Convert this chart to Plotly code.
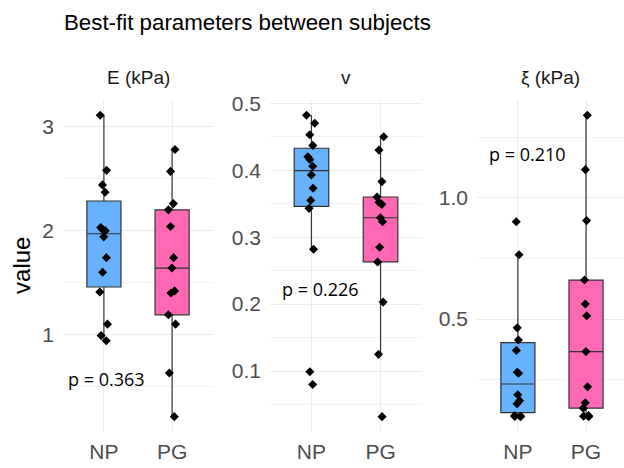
import numpy as np
import plotly.graph_objects as go

# Groups and facet labels
groups = ["NP", "PG"]
panel_titles = ["E (kPa)", "v", "ξ (kPa)"]

# Best-fit parameter values per subject
E_NP = [3.11, 2.58, 2.44, 2.37, 2.03, 2.01, 2.00, 1.94, 1.74, 1.60, 1.41, 1.10, 0.99, 0.94]
E_PG = [2.78, 2.57, 2.26, 2.20, 2.04, 1.74, 1.64, 1.42, 1.40, 1.19, 1.10, 0.63, 0.21]
v_NP = [0.482, 0.470, 0.453, 0.437, 0.420, 0.416, 0.406, 0.393, 0.373, 0.355, 0.343, 0.282, 0.099, 0.080]
v_PG = [0.450, 0.430, 0.383, 0.360, 0.352, 0.349, 0.329, 0.323, 0.285, 0.263, 0.203, 0.125, 0.032]
xi_NP = [0.901, 0.765, 0.464, 0.414, 0.371, 0.281, 0.277, 0.188, 0.164, 0.151, 0.102, 0.100, 0.099, 0.098]
xi_PG = [1.340, 1.116, 0.906, 0.661, 0.562, 0.514, 0.366, 0.221, 0.155, 0.133, 0.102, 0.100, 0.098]

# p-values from the group comparison, with label positions (category index, value)
p_labels = ["p = 0.363", "p = 0.226", "p = 0.210"]
p_label_x = [-0.55, -0.46, -0.45]
p_label_y = [0.575, 0.222, 1.18]

panels = [
    {"NP": E_NP, "PG": E_PG},
    {"NP": v_NP, "PG": v_PG},
    {"NP": xi_NP, "PG": xi_PG},
]

fill_colors = {"NP": "#66B2FF", "PG": "#FF69B4"}
W, H = 624, 468
x_domains = [(63 / W, 213 / W), (270 / W, 422 / W), (477 / W, 1.0)]
x_ranges = [[-0.6, 1.6], [-0.6, 1.6], [-0.6, 1.557]]
y_domain = [(H - 431) / H, (H - 93) / H]
major_dtick = [1, 0.1, 0.5]
minor_dtick = [0.5, 0.05, 0.25]
tick_fmt = ["d", ".1f", ".1f"]

SANS = "Liberation Sans, Arial, sans-serif"
TICK_FONT = dict(family=SANS, size=21, color="#4D4D4D")
GRID = "#EBEBEB"
GRID_MINOR = "#F3F3F3"


def box_stats(vals):
    a = np.asarray(vals, dtype=float)
    q1, med, q3 = np.percentile(a, [25, 50, 75])
    iqr = q3 - q1
    lo = a[a >= q1 - 1.5 * iqr].min()
    hi = a[a <= q3 + 1.5 * iqr].max()
    return q1, med, q3, lo, hi


fig = go.Figure()

for i, data in enumerate(panels):
    suffix = "" if i == 0 else str(i + 1)
    xa, ya = "x" + suffix, "y" + suffix

    # boxes from the quartiles
    for g in groups:
        q1, med, q3, lo, hi = box_stats(data[g])
        fig.add_trace(go.Box(
            x=[g], q1=[q1], median=[med], q3=[q3],
            lowerfence=[lo], upperfence=[hi],
            width=0.5, whiskerwidth=0, boxpoints=False,
            fillcolor=fill_colors[g],
            line=dict(color="#333333", width=1.2),
            xaxis=xa, yaxis=ya, showlegend=False, hoverinfo="skip",
        ))
    # jittered subject points
    for g in groups:
        fig.add_trace(go.Box(
            x=[g] * len(data[g]), y=data[g],
            boxpoints="all", jitter=0.3, pointpos=0,
            width=0.5, whiskerwidth=0,
            fillcolor="rgba(0,0,0,0)",
            line=dict(color="rgba(0,0,0,0)", width=0),
            marker=dict(color="black", symbol="diamond", size=7),
            xaxis=xa, yaxis=ya, showlegend=False,
        ))

    allv = np.concatenate([np.asarray(data[g], dtype=float) for g in groups])
    span = allv.max() - allv.min()
    yr = [allv.min() - 0.05 * span, allv.max() + 0.05 * span]

    fig.layout["xaxis" + suffix] = dict(
        domain=list(x_domains[i]), anchor=ya, type="category",
        categoryorder="array", categoryarray=groups,
        range=x_ranges[i], showgrid=True, gridcolor=GRID, gridwidth=1,
        zeroline=False, showline=False, ticks="", ticklabelstandoff=5,
        tickfont=TICK_FONT, fixedrange=True,
    )
    fig.layout["yaxis" + suffix] = dict(
        domain=y_domain, anchor=xa, range=yr,
        tick0=0, dtick=major_dtick[i], tickformat=tick_fmt[i],
        showgrid=True, gridcolor=GRID, gridwidth=1,
        minor=dict(dtick=minor_dtick[i], showgrid=True, gridcolor=GRID_MINOR, gridwidth=1),
        zeroline=False, showline=False, ticks="", ticklabelstandoff=8,
        tickfont=TICK_FONT, fixedrange=True,
    )

    # facet strip title
    fig.add_annotation(
        text=panel_titles[i], xref="x" + suffix + " domain", yref="paper",
        x=0.5, y=(H - 70) / H, xanchor="center", yanchor="middle",
        showarrow=False,
        font=dict(family=SANS, size=19, color="#1A1A1A"),
    )
    # p-value label
    fig.add_annotation(
        text=p_labels[i], xref=xa, yref=ya, x=p_label_x[i], y=p_label_y[i],
        xanchor="left", yanchor="middle", showarrow=False,
        font=dict(family="Open Sans, sans-serif", size=18, color="black"),
    )

# shared y-axis title
fig.add_annotation(
    text="value", xref="paper", yref="paper", x=22 / W, y=(H - 262) / H,
    textangle=-90, xanchor="center", yanchor="middle", showarrow=False,
    font=dict(family=SANS, size=24, color="black"),
)

fig.update_layout(
    width=W, height=H,
    margin=dict(l=0, r=0, t=0, b=0),
    paper_bgcolor="white", plot_bgcolor="white",
    boxmode="overlay",
    title=dict(
        text="Best-fit parameters between subjects",
        x=64 / W, xanchor="left", xref="paper",
        y=1 - 22 / H, yanchor="middle",
        font=dict(family=SANS, size=22.3, color="black"),
    ),
)

fig.write_html("out.html")
